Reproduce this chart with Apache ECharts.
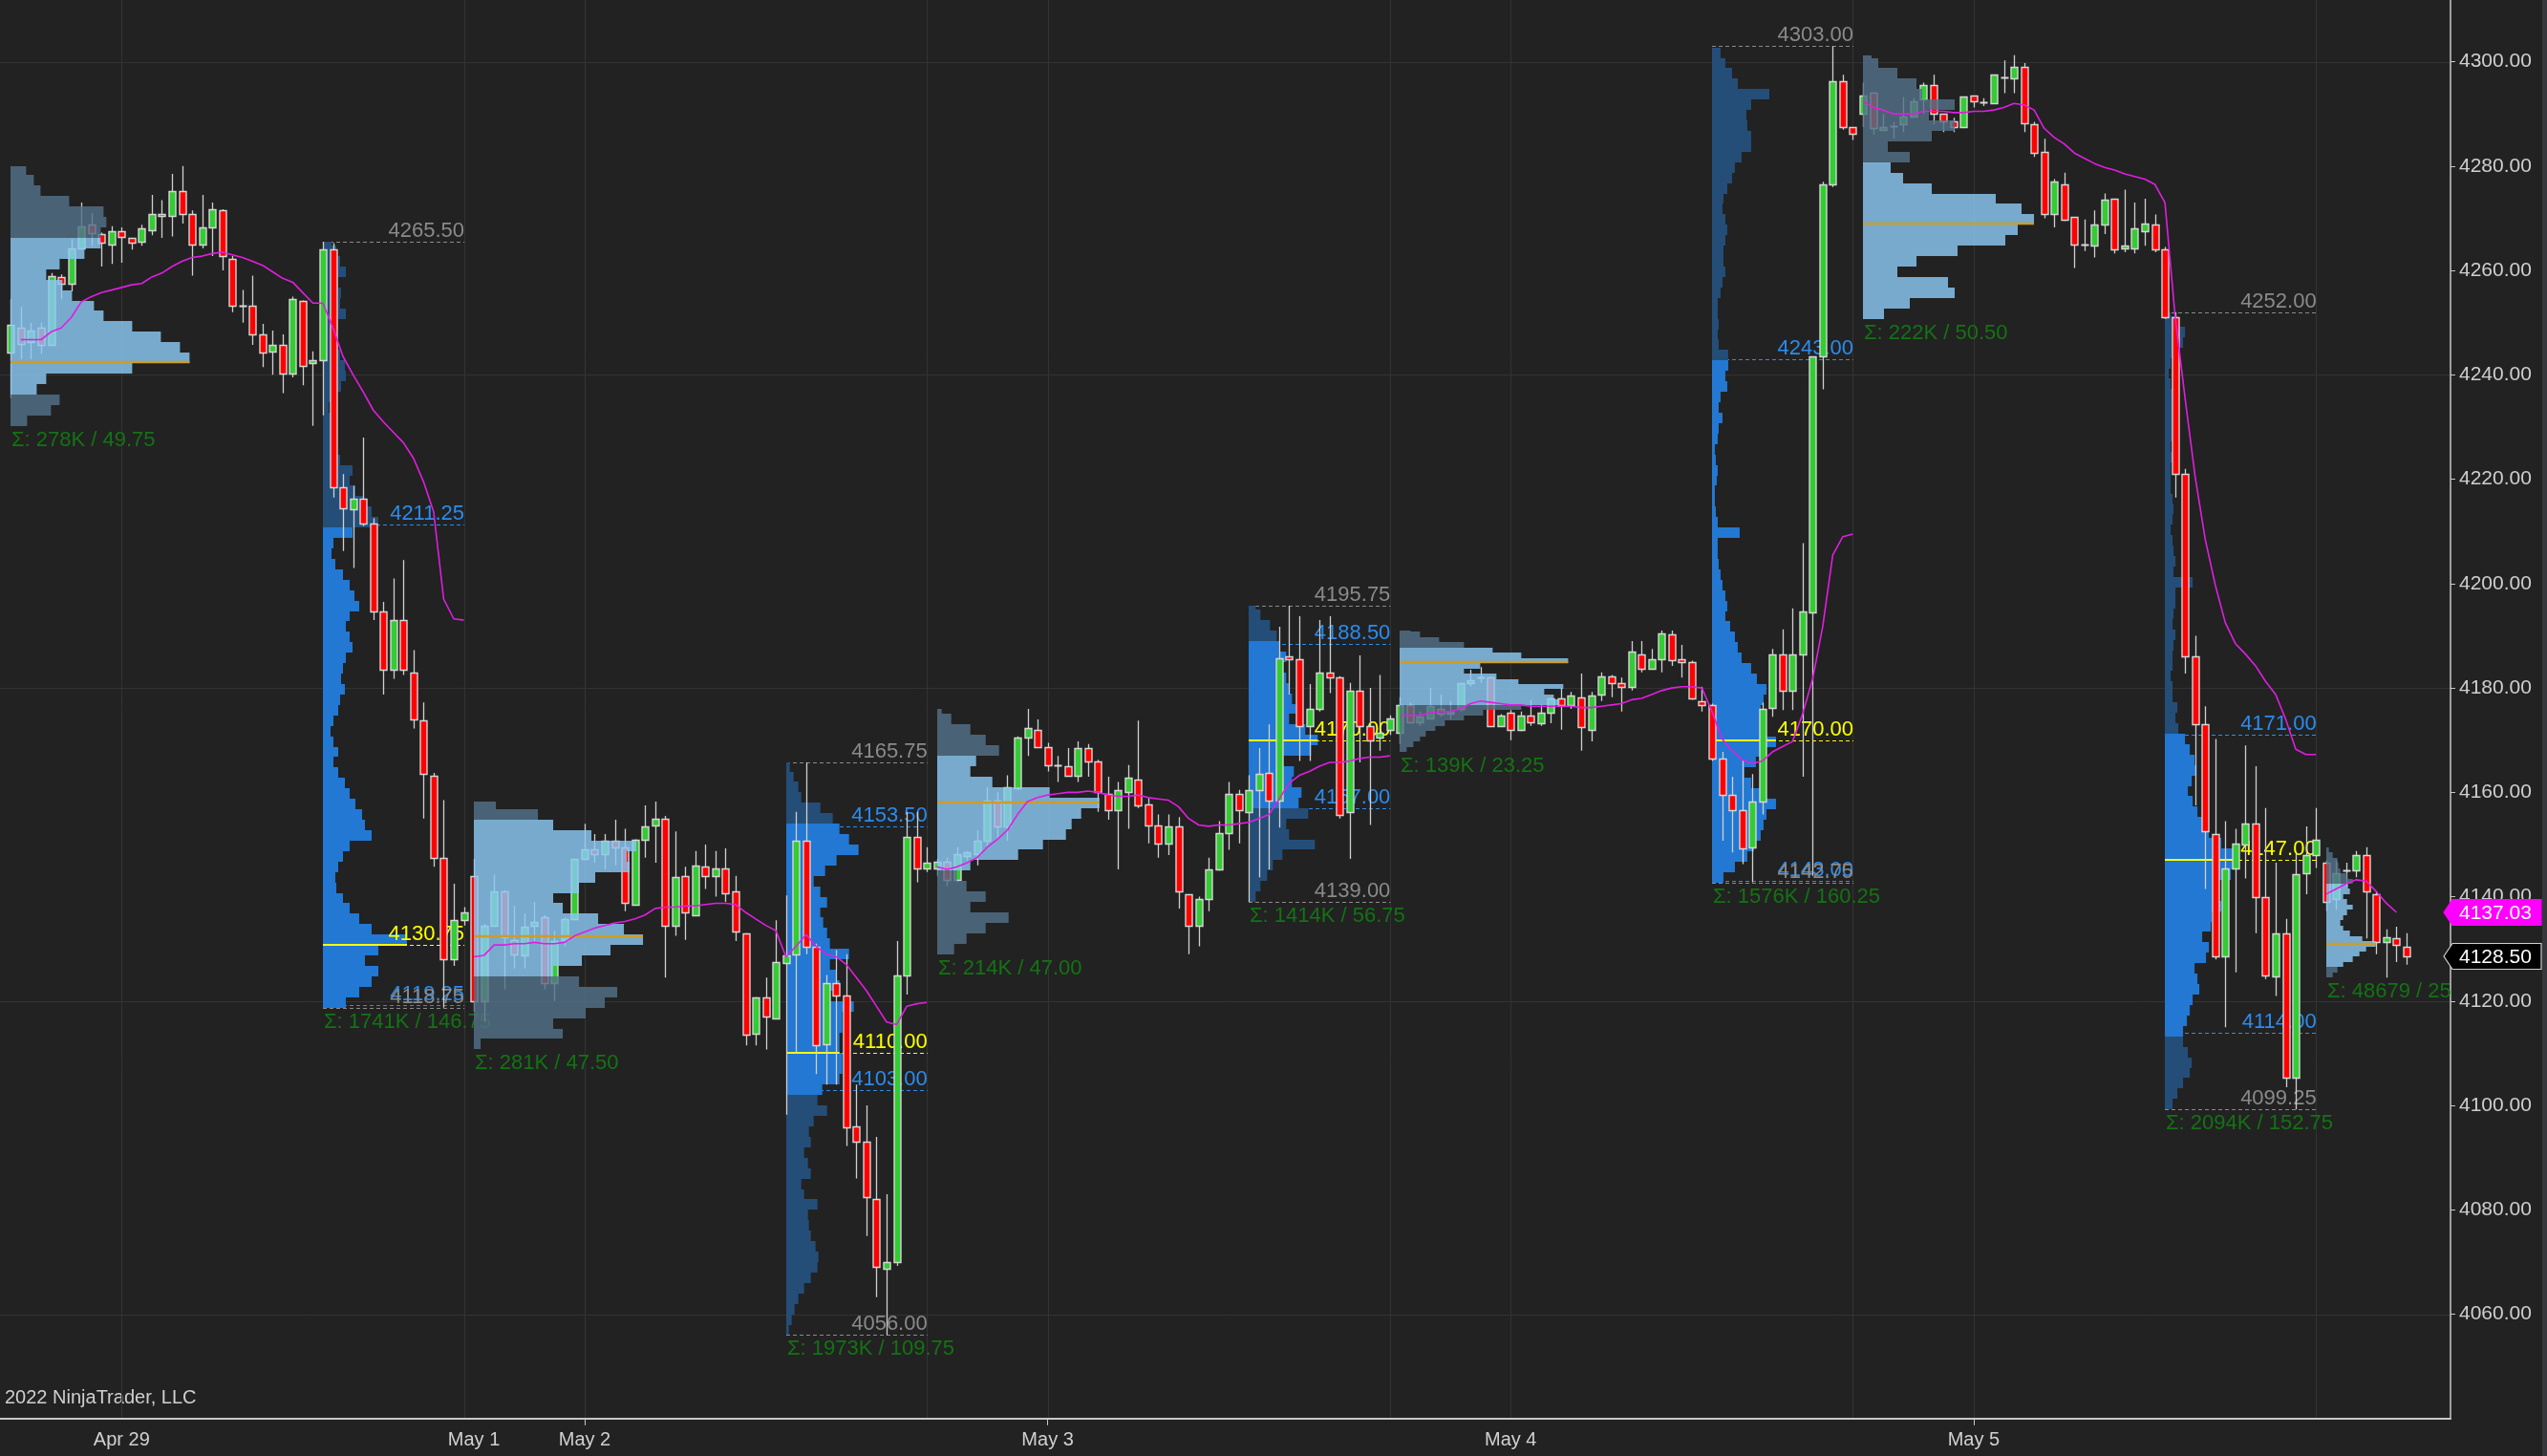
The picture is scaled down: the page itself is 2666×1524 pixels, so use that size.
<!DOCTYPE html>
<html><head><meta charset="utf-8">
<script src="https://cdn.jsdelivr.net/npm/echarts@6/dist/echarts.min.js"></script>
<style>html,body{margin:0;padding:0;background:#222222;}#c{width:2666px;height:1524px;}</style>
</head><body><div id="c"></div>
<script>
// ---------------- DATA ----------------
const opens = [4244.25,4249.0,4246.25,4249.0,4245.75,4258.75,4257.5,4264.25,4268.75,4267.0,4265.0,4267.5,4266.25,4265.5,4267.75,4270.75,4270.5,4275.25,4270.75,4265.0,4268.25,4271.5,4262.25,4253.25,4253.25,4247.75,4244.5,4245.75,4240.25,4254.25,4242.25,4242.75,4264.0,4218.5,4214.25,4216.25,4211.5,4194.75,4183.5,4193.0,4183.0,4173.75,4163.25,4147.5,4128.0,4135.5,
4144.0,4120.0,4134.5,4141.0,4131.75,4128.75,4134.5,4136.0,4123.5,4131.75,4135.75,4147.25,4149.0,4148.25,4150.75,4149.5,4138.5,4151.0,4153.75,4155.0,4134.5,4144.0,4136.5,4145.75,4144.0,4145.5,4141.0,4133.0,4113.75,4120.75,4116.75,4127.25,4129.0,4150.75,4130.5,4111.75,4123.5,4121.0,4096.0,4093.0,4082.0,4068.75,4070.0,4125.0,4151.5,4145.5,
4145.5,4146.75,4143.25,4147.75,4148.25,4150.75,4158.5,4153.5,4160.75,4170.5,4172.0,4168.75,4165.25,4165.0,4163.25,4168.5,4166.0,4159.75,4156.5,4160.0,4162.5,4157.75,4153.75,4150.25,4153.5,4140.5,4134.5,4139.5,4145.25,4152.25,4159.75,4156.25,4160.5,4163.75,4158.5,4186.0,4185.5,4172.75,4176.0,4183.0,4182.0,4156.25,4179.5,4172.75,4170.5,4172.0,
4171.5,4176.75,4173.5,4174.25,4176.0,4175.0,4176.0,4181.0,4182.0,4182.0,4172.75,4175.25,4172.0,4174.75,4173.25,4175.25,4178.0,4176.75,4178.25,4172.0,4178.75,4182.25,4181.0,4180.25,4186.5,4183.75,4185.5,4190.25,4185.5,4185.0,4177.5,4176.75,4166.5,4159.5,4156.5,4149.5,4158.25,4176.25,4186.5,4179.5,4186.5,4194.5,4243.5,4276.5,4296.25,4287.5,
4290.0,4294.0,4287.0,4287.75,4288.0,4289.5,4292.75,4295.5,4290.0,4288.5,4287.5,4293.5,4292.25,4292.0,4297.0,4296.75,4299.0,4288.0,4282.75,4270.75,4276.5,4270.25,4265.0,4264.75,4268.75,4273.75,4264.25,4264.25,4267.5,4268.75,4264.0,4251.0,4221.0,4186.0,4173.0,4152.0,4128.5,4145.5,4150.0,4154.0,4140.0,4124.75,4133.0,4105.25,4144.5,4148.0,
4146.5,4139.5,4145.0,4145.0,4148.0,4140.5,4131.25,4132.0,4130.5];
const closes = [4249.5,4246.0,4248.5,4245.75,4259.0,4257.5,4264.25,4268.5,4267.25,4265.25,4267.5,4266.5,4265.25,4268.0,4270.75,4270.5,4275.25,4270.75,4265.0,4268.25,4271.75,4262.75,4253.25,4253.25,4247.75,4244.25,4245.75,4240.25,4254.5,4241.75,4242.75,4264.0,4218.5,4214.5,4216.25,4211.5,4194.75,4183.5,4193.0,4183.5,4174.0,4163.5,4147.5,4128.0,4135.5,4137.0,
4120.0,4134.5,4141.0,4132.25,4129.0,4134.25,4135.25,4123.5,4131.5,4135.75,4147.25,4149.0,4148.25,4150.75,4149.5,4138.75,4151.0,4153.5,4155.0,4134.5,4143.75,4137.0,4146.0,4144.0,4145.5,4140.75,4133.25,4113.5,4120.75,4117.0,4127.5,4128.75,4150.75,4130.5,4111.5,4123.5,4121.0,4095.75,4093.0,4082.5,4069.0,4070.0,4125.0,4151.5,4145.5,4146.5,
4146.75,4143.25,4148.25,4148.5,4150.75,4158.5,4153.5,4161.0,4170.5,4172.25,4168.75,4165.25,4165.25,4163.25,4168.5,4166.0,4160.0,4156.5,4160.5,4162.75,4157.5,4153.75,4150.25,4153.5,4141.0,4134.5,4139.5,4145.25,4152.25,4159.75,4156.5,4160.5,4163.5,4158.5,4185.75,4185.5,4172.75,4176.0,4183.0,4182.0,4155.75,4179.5,4172.75,4170.0,4171.5,4174.25,
4176.75,4173.5,4174.5,4176.5,4175.0,4175.5,4181.0,4181.5,4182.0,4172.75,4174.75,4172.0,4174.75,4173.5,4175.25,4178.0,4176.75,4178.5,4172.5,4178.5,4182.25,4181.0,4180.25,4187.0,4183.75,4185.5,4190.5,4185.25,4185.0,4178.0,4176.75,4166.5,4159.5,4156.5,4149.25,4158.25,4176.0,4186.5,4179.5,4186.5,4194.75,4243.5,4276.5,4296.25,4287.5,4286.25,
4293.5,4287.25,4287.5,4287.75,4289.5,4292.5,4295.5,4290.0,4288.5,4287.5,4293.25,4292.5,4292.25,4297.5,4297.0,4299.0,4288.25,4282.5,4270.75,4277.0,4269.75,4265.0,4265.0,4268.75,4273.5,4264.0,4264.75,4268.0,4269.0,4264.0,4251.0,4221.0,4186.0,4173.0,4152.5,4128.5,4145.5,4150.25,4154.0,4140.0,4125.0,4133.0,4105.25,4144.25,4148.0,4151.0,
4139.0,4144.5,4145.0,4148.0,4141.0,4131.25,4132.25,4130.75,4128.5];
const highs = [4254.5,4253.0,4250.0,4250.0,4259.5,4259.25,4266.0,4273.0,4271.0,4267.25,4268.5,4268.25,4266.25,4268.75,4274.5,4273.5,4278.5,4280.0,4271.5,4274.5,4273.0,4271.75,4262.75,4256.25,4259.0,4249.75,4248.5,4247.75,4255.0,4254.25,4244.5,4265.5,4265.25,4221.0,4218.75,4228.0,4212.5,4196.5,4201.0,4204.5,4187.25,4177.25,4163.75,4158.5,4142.5,4138.0,
4147.25,4134.75,4144.25,4141.25,4138.25,4136.75,4139.0,4136.5,4133.5,4136.0,4147.25,4154.0,4152.0,4152.0,4154.75,4153.0,4151.0,4157.5,4158.25,4155.5,4152.5,4145.75,4148.75,4150.0,4148.75,4149.25,4144.0,4133.0,4120.75,4124.5,4135.5,4140.25,4156.25,4165.75,4131.0,4125.0,4129.75,4129.0,4104.0,4100.0,4094.0,4083.0,4131.5,4156.25,4156.25,4149.5,
4147.25,4147.5,4149.5,4148.75,4152.75,4161.0,4160.0,4163.25,4170.75,4176.0,4174.0,4169.5,4167.0,4168.5,4169.75,4169.25,4166.25,4163.0,4162.0,4165.25,4173.75,4159.0,4155.75,4155.75,4155.25,4140.5,4140.0,4147.5,4154.5,4162.0,4160.5,4163.25,4168.5,4173.0,4191.75,4195.75,4193.75,4180.75,4193.0,4193.75,4182.25,4181.0,4186.25,4180.0,4182.5,4174.75,
4178.25,4177.25,4175.5,4180.0,4178.75,4177.5,4181.0,4183.5,4184.0,4182.25,4175.0,4175.75,4175.5,4177.75,4176.75,4178.25,4180.0,4179.25,4182.75,4179.25,4183.0,4182.5,4182.0,4189.0,4189.0,4187.5,4191.0,4191.0,4188.25,4185.25,4180.25,4177.0,4167.75,4163.0,4166.25,4163.5,4177.25,4187.5,4191.25,4195.25,4207.75,4243.5,4277.0,4303.0,4297.5,4287.5,
4296.0,4294.0,4290.0,4288.5,4293.25,4293.0,4296.0,4297.5,4290.0,4289.25,4293.25,4293.5,4293.0,4297.5,4300.25,4301.25,4299.75,4288.5,4285.25,4277.5,4278.75,4270.25,4269.75,4271.5,4274.75,4273.75,4275.5,4273.0,4273.75,4270.75,4264.5,4252.0,4222.0,4190.0,4176.5,4170.25,4154.5,4153.0,4169.0,4165.0,4157.0,4146.5,4135.75,4148.25,4153.5,4157.0,
4147.0,4147.0,4146.5,4148.75,4149.5,4141.0,4133.75,4134.25,4133.0];
const lows = [4235.5,4243.0,4243.0,4244.0,4245.5,4254.5,4256.0,4264.0,4264.75,4260.75,4261.25,4261.5,4264.0,4264.75,4266.75,4266.25,4266.5,4269.0,4259.0,4264.25,4262.75,4260.0,4252.0,4250.0,4245.75,4241.5,4240.0,4236.5,4239.5,4238.0,4230.25,4232.25,4216.5,4206.25,4203.0,4211.0,4193.0,4178.75,4181.75,4182.5,4172.25,4155.0,4145.75,4118.75,4126.75,4134.5,
4118.0,4116.0,4134.5,4122.25,4126.25,4126.25,4131.0,4122.25,4120.0,4130.5,4135.5,4147.0,4146.5,4145.25,4146.0,4137.25,4138.5,4147.5,4146.5,4124.5,4132.5,4131.75,4136.5,4141.5,4140.0,4139.0,4131.5,4111.5,4111.5,4110.75,4116.5,4098.25,4110.0,4129.0,4106.0,4104.0,4104.0,4092.25,4086.0,4075.0,4063.25,4056.0,4069.25,4121.25,4142.75,4144.75,
4144.0,4142.0,4142.75,4147.0,4146.0,4149.5,4151.0,4150.75,4160.5,4167.0,4168.5,4164.0,4162.0,4163.0,4162.0,4163.0,4156.25,4154.75,4145.25,4153.0,4157.0,4150.25,4147.5,4148.0,4137.75,4129.0,4130.5,4137.25,4145.0,4149.0,4150.25,4139.0,4143.75,4145.25,4153.25,4178.75,4166.0,4166.0,4175.5,4179.0,4155.0,4147.25,4165.75,4153.75,4168.0,4171.0,
4169.25,4173.25,4172.75,4174.0,4174.5,4174.0,4175.5,4180.25,4181.0,4172.5,4172.5,4170.0,4171.75,4172.75,4172.75,4173.25,4172.0,4176.0,4168.0,4169.75,4177.5,4178.25,4175.5,4179.5,4183.0,4183.5,4183.0,4184.25,4182.0,4177.75,4175.5,4166.0,4150.75,4148.5,4146.25,4142.75,4155.75,4174.5,4175.75,4175.75,4163.0,4144.0,4237.25,4276.0,4287.0,4285.0,
4287.5,4286.0,4287.0,4285.25,4286.5,4289.5,4290.0,4288.0,4286.5,4286.5,4287.5,4291.25,4291.5,4292.0,4294.0,4294.0,4286.5,4281.75,4270.0,4268.25,4269.5,4260.5,4263.75,4262.5,4267.0,4263.25,4263.5,4263.25,4264.75,4263.5,4250.75,4216.5,4182.75,4157.5,4141.5,4128.0,4115.0,4125.5,4143.5,4133.0,4124.25,4121.0,4103.5,4099.25,4140.5,4145.5,
4137.25,4137.5,4142.0,4143.75,4132.0,4129.0,4124.5,4127.5,4127.0];
const vwap = [null,4246.75,4246.75,4246.75,4248.25,4249.0,4251.0,4254.0,4255.0,4255.75,4256.25,4256.75,4257.25,4257.5,4258.75,4259.5,4260.75,4261.75,4262.5,4262.75,4263.25,4263.5,4263.0,4262.5,4261.75,4261.0,4259.75,4258.5,4257.75,4255.75,4253.75,4253.75,4249.0,4243.5,4240.0,4236.75,4233.25,4231.0,4229.0,4227.0,4224.0,4219.5,4213.75,4197.0,4193.25,4193.0,
4128.5,4128.75,4130.75,4130.75,4131.0,4131.0,4131.25,4131.0,4131.0,4131.25,4132.5,4133.25,4134.0,4134.5,4135.0,4135.25,4135.75,4136.5,4137.75,4138.0,4138.0,4138.25,4138.25,4138.5,4138.75,4138.75,4138.5,4137.0,4135.75,4134.5,4133.5,4128.5,4130.5,4132.75,4130.5,4129.0,4128.5,4127.0,4124.5,4122.0,4119.0,4116.0,4115.5,4119.0,4119.5,4119.75,
4145.75,4145.25,4145.75,4146.5,4147.5,4149.5,4151.0,4152.75,4155.75,4158.25,4159.0,4159.5,4159.75,4160.0,4160.0,4160.25,4160.0,4159.5,4159.25,4159.25,4159.5,4159.0,4158.75,4158.5,4157.25,4155.0,4153.75,4153.5,4153.75,4153.75,4154.0,4154.25,4155.0,4155.75,4158.75,4161.75,4163.25,4164.0,4165.0,4165.75,4165.75,4166.0,4166.5,4166.75,4166.75,4167.0,
4174.75,4174.75,4174.75,4175.25,4175.5,4175.5,4176.0,4177.0,4177.5,4177.25,4177.0,4176.75,4176.75,4176.5,4176.5,4176.5,4176.5,4176.5,4176.25,4176.25,4176.5,4176.75,4177.0,4177.75,4178.0,4178.75,4179.5,4180.0,4180.25,4180.25,4180.0,4175.5,4170.25,4168.0,4166.25,4165.5,4166.0,4167.75,4168.75,4169.75,4175.0,4181.75,4191.75,4205.5,4209.0,4209.5,
4292.5,4291.25,4290.75,4290.0,4290.0,4290.0,4290.5,4290.5,4290.5,4290.25,4290.25,4290.5,4290.5,4290.75,4291.25,4292.0,4291.75,4290.75,4287.25,4285.5,4284.25,4282.5,4281.5,4280.5,4279.75,4279.25,4278.5,4278.0,4277.5,4276.5,4273.0,4251.5,4235.5,4220.5,4208.5,4199.75,4192.5,4188.5,4186.5,4184.25,4181.25,4178.75,4174.0,4168.25,4167.25,4167.25,
4140.5,4141.5,4142.5,4143.25,4143.0,4141.0,4138.75,4137.0,null];
const vwapLast = 4137.03;
const vwapSessionStarts = [0,46,92,138,184,230];

// volume profiles (volume units per price bin, bottom -> top)
const prof1Vol = [17,42,51,27,37,127,187,177,157,127,97,87,64,54,37,51,77,94,94,100,97,61,31,24,16];
const prof2Vol = [24,38,51,58,44,58,88,51,38,28,21,14,13,16,21,28,51,44,41,34,28,23,16,11,16,11,8,11,16,18,23,19,21,24,31,28,24,28,38,33,28,21,13,9,11,31,58,51,43,34,28,31,18,14,11,11,9,6,13,19,24,23,18,14,14,16,24,18,19,16,24,18,14,9];
const prof3Vol = [7,93,83,117,137,150,110,83,113,143,177,157,130,93,83,110,127,163,160,170,123,83,67,23];
const prof4Vol = [3,6,9,13,19,26,33,34,31,26,24,23,33,19,16,26,23,19,26,24,29,43,33,38,56,59,59,56,56,59,59,71,46,56,53,46,66,46,43,39,36,43,36,29,41,53,76,66,56,49,36,16,13,8,4];
const prof5Vol = [18,31,51,75,35,51,31,21,35,85,111,135,141,151,170,118,58,35,41,65,51,35,15,5];
const prof6Vol = [7,12,19,25,35,69,42,39,62,52,55,45,47,35,65,72,59,42,49,45,42,39,35,39,32,29,22,12,7];
const prof7Vol = [7,14,21,27,37,47,67,87,127,167,161,151,171,124,101,67,84,176,127,97,67,41,21,11];
const prof8Vol = [12,24,37,44,51,54,57,67,57,41,34,46,54,67,54,52,51,54,57,47,41,31,27,24,19,14,16,14,11,9,7,6,6,29,6,4,3,3,5,6,4,3,6,7,11,7,9,16,14,17,17,7,6,7,6,6,9,11,14,12,12,14,16,14,11,12,16,21,24,31,41,41,37,36,41,60,27,21,14,9];
const prof9Vol = [22,49,96,89,36,56,99,149,162,179,166,139,72,42,29,49,26,72,96,69,96,62,56,36,16,9];
const prof10Vol = [8,13,19,26,28,24,19,19,23,26,29,36,34,31,43,46,39,48,49,59,53,56,69,76,73,59,46,39,34,29,24,28,33,31,26,21,14,11,13,8,8,6,8,8,9,11,8,9,11,11,29,9,11,9,8,6,8,9,8,6,6,6,8,6,8,9,11,11,8,6,4,6,13,19,21,13,6];
const prof11Vol = [7,12,18,28,35,42,52,38,25,18,15,18,22,28,22,18,25,23,28,22,15,13,12,7,3];

const profType  = ['eth','rth','eth','rth','eth','rth','eth','rth','eth','rth','eth'];
const profStart = [0,31,46,77,92,123,138,169,184,214,230];
const profEnd   = [30,45,76,91,122,137,168,183,213,229,238];
const profLow   = [4230.25,4118.75,4110.75,4056.00,4129.00,4139.00,4167.75,4142.75,4250.75,4099.25,4124.50];
const profHigh  = [4280.00,4265.50,4158.25,4165.75,4176.00,4195.75,4191.00,4303.00,4301.25,4252.00,4149.50];
const profVAH   = [4265.75,4211.25,4153.75,4153.50,4166.00,4188.50,4188.00,4243.00,4280.75,4171.00,4142.75];
const profVAL   = [4237.00,4119.25,4125.75,4103.00,4144.25,4157.00,4176.50,4143.00,4250.75,4114.00,4127.00];
const profPOC   = [4242.50,4130.75,4132.50,4110.00,4158.00,4170.00,4185.00,4170.00,4269.00,4147.00,4131.00];
const profStep  = [2,2,2,2,2,2,1,2,2,2,1];
const profVolLabel = ['278K','1741K','281K','1973K','214K','1414K','139K','1576K','222K','2094K','48679'];
const profVols = [prof1Vol,prof2Vol,prof3Vol,prof4Vol,prof5Vol,prof6Vol,prof7Vol,prof8Vol,prof9Vol,prof10Vol,prof11Vol];

const priceTicks = [4060,4080,4100,4120,4140,4160,4180,4200,4220,4240,4260,4280,4300];
const gridPrices = [4060,4120,4180,4240,4300];
const gridBars = [11,45,57,91,103,137,149,183,195,229];
const dateBars = [11,46,57,103,149,195];
const dateLabels = ['Apr 29','May 1','May 2','May 3','May 4','May 5'];
const dateTickBars = [57,103,195];

// ---------------- STYLE / LAYOUT ----------------
const FONT = '"Liberation Sans", Arial, sans-serif';
const X_MIN = -1.082, X_MAX = 242.37;
const VOL_TO_BARS = 1 / 10.536;
const GREEN = '#33cc33', RED = '#ff0000';

const chart = echarts.init(document.getElementById('c'), null, {renderer:'canvas'});

function gridRender(params, api) {
  const cs = params.coordSys;
  const ch = [];
  gridPrices.forEach(p => {
    const y = Math.round(api.coord([0, p])[1]) + 0.5;
    ch.push({type:'line', shape:{x1:cs.x, y1:y, x2:cs.x+cs.width, y2:y}, style:{stroke:'#333333', lineWidth:1}});
  });
  gridBars.forEach(b => {
    const x = Math.round(api.coord([b, 4100])[0]) + 0.5;
    ch.push({type:'line', shape:{x1:x, y1:cs.y, x2:x, y2:cs.y+cs.height}, style:{stroke:'#333333', lineWidth:1}});
  });
  return {type:'group', children:ch};
}

function txt(x, y, text, fill, align, valign, size) {
  return {type:'text', x, y, style:{text, fill, fontSize:size||22, fontFamily:FONT,
    align, verticalAlign:valign, textAlign:align, textVerticalAlign:valign}};
}

function profileRender(params, api) {
  const pi = api.value(1);
  const rth = profType[pi] === 'rth';
  const s = profStart[pi], e = profEnd[pi], lo = profLow[pi], hi = profHigh[pi], st = profStep[pi];
  const vols = profVols[pi];
  const yOf = v => api.coord([s, v])[1];
  const xOf = b => api.coord([b, lo])[0];
  const xs = Math.round(xOf(s)), xe = xOf(e + 0.05);
  const ch = [];
  const levels = [[hi,'#8a8a8a'],[profVAH[pi],'#2b8cee'],[profPOC[pi],'#ffff00'],[profVAL[pi],'#2b8cee'],[lo,'#8a8a8a']];
  if (rth) {
    levels.forEach(([v,c]) => {
      const y = Math.round(yOf(v)) + 0.5;
      ch.push({type:'line', shape:{x1:xs, y1:y, x2:xe, y2:y}, style:{stroke:c, lineWidth:1, lineDash:[4,3]}});
    });
  }
  let maxV = 0;
  vols.forEach((vol, i) => {
    const b0 = lo + i*st, b1 = Math.min(lo + (i+1)*st, hi);
    if (b1 <= b0) return;
    maxV = Math.max(maxV, vol);
    const mid = (b0 + b1) / 2;
    const inVA = mid >= profVAL[pi] && mid <= profVAH[pi];
    const yTop = Math.round(yOf(b1)), yBot = Math.round(yOf(b0));
    const x1 = xOf(s + vol*VOL_TO_BARS);
    const fill = rth ? (inVA ? '#2278d2' : '#244e78') : (inVA ? '#8bc8f3' : '#537088');
    ch.push({type:'rect', shape:{x:xs, y:yTop, width:x1-xs, height:yBot-yTop}, style:{fill, opacity: rth ? 1 : 0.82}});
  });
  const pocIdx = Math.min(vols.length-1, Math.floor((profPOC[pi]-lo)/st));
  const yP = Math.round(yOf(profPOC[pi]));
  if (rth) {
    ch.push({type:'line', shape:{x1:xs, y1:yP, x2:xOf(s + vols[pocIdx]*VOL_TO_BARS), y2:yP}, style:{stroke:'#ffff00', lineWidth:2}});
    levels.forEach(([v,c]) => ch.push(txt(xe, Math.round(yOf(v)), v.toFixed(2), c, 'right', 'bottom', 22)));
  } else {
    ch.push({type:'line', shape:{x1:xs, y1:yP, x2:xOf(s + maxV*VOL_TO_BARS), y2:yP}, style:{stroke:'#cc9d2a', lineWidth:2.5}});
  }
  ch.push(txt(xs + 1, Math.round(yOf(lo)) + 4, 'Σ: ' + profVolLabel[pi] + ' / ' + (hi - lo).toFixed(2), '#137313', 'left', 'top', 22));
  return {type:'group', children:ch};
}

function candleRender(params, api) {
  const i = api.value(0), o = api.value(1), c = api.value(2), l = api.value(3), h = api.value(4);
  const pO = api.coord([i, o]), pC = api.coord([i, c]), pL = api.coord([i, l]), pH = api.coord([i, h]);
  const w = Math.round(api.size([1, 0])[0] * 0.62);
  const x = Math.round(pO[0]);
  const top = Math.round(Math.min(pO[1], pC[1])), bot = Math.round(Math.max(pO[1], pC[1]));
  const ch = [{type:'line', shape:{x1:x+0.5, y1:pH[1], x2:x+0.5, y2:pL[1]}, style:{stroke:'#cfcfcf', lineWidth:1.3}}];
  if (bot - top < 2) {
    ch.push({type:'line', shape:{x1:x-w/2, y1:top+0.5, x2:x+w/2+1, y2:top+0.5}, style:{stroke:'#d8d8d8', lineWidth:2}});
  } else {
    ch.push({type:'rect', shape:{x:x-w/2+0.5, y:top+0.5, width:w, height:bot-top}, style:{fill: c >= o ? GREEN : RED, stroke:'#d6d6d6', lineWidth:1.4}});
  }
  return {type:'group', children:ch};
}

function markerRender(params, api) {
  const cs = params.coordSys;
  const xr = cs.x + cs.width;
  const mk = (v, fill, stroke) => {
    const y = Math.round(api.coord([X_MAX, v])[1]);
    const hh = 13.5;
    return [
      {type:'polygon', shape:{points:[[xr-7,y],[xr+2,y-hh],[xr+95,y-hh],[xr+95,y+hh],[xr+2,y+hh]]}, style:{fill, stroke, lineWidth:1.2}},
      txt(xr+9, y+1, v.toFixed(2), '#ffffff', 'left', 'middle', 21)
    ];
  };
  return {type:'group', children:[...mk(vwapLast, '#ff00ff', '#ff00ff'), ...mk(closes[closes.length-1], '#000000', '#d0d0d0')]};
}

const candleData = opens.map((o, i) => [i, o, closes[i], lows[i], highs[i]]);
const rthData = [], ethData = [];
profType.forEach((t, i) => (t === 'rth' ? rthData : ethData).push([profStart[i], i]));

const vwapSeries = vwapSessionStarts.map((st, k) => {
  const en = k + 1 < vwapSessionStarts.length ? vwapSessionStarts[k+1] : vwap.length;
  const d = [];
  for (let i = st; i < en; i++) if (vwap[i] != null) d.push([i, vwap[i]]);
  return {type:'line', data:d, showSymbol:false, symbol:'none', silent:true, z:5, clip:true,
    lineStyle:{color:'#e01ee0', width:1.6}};
});

const option = {
  backgroundColor:'#222222',
  animation:false,
  grid:{left:0, right:101, top:0, bottom:39.13, containLabel:false},
  xAxis:{
    type:'value', min:X_MIN, max:X_MAX,
    axisLine:{show:true, onZero:false, lineStyle:{color:'#c8c8c8', width:2}},
    axisTick:{show:true, customValues:dateTickBars, length:7, lineStyle:{color:'#c8c8c8'}},
    axisLabel:{show:true, customValues:dateBars, formatter:(v) => { const k = dateBars.indexOf(Math.round(v)); return k >= 0 ? dateLabels[k] : ''; },
      color:'#d0d0d0', fontSize:20, fontFamily:FONT, margin:13},
    splitLine:{show:false}
  },
  yAxis:{
    type:'value', position:'right', min:4040, max:4311.83, interval:20, scale:true,
    axisLine:{show:true, onZero:false, lineStyle:{color:'#c8c8c8', width:1.5}},
    axisTick:{show:true, customValues:priceTicks, length:5, lineStyle:{color:'#c8c8c8'}},
    axisLabel:{show:true, customValues:priceTicks, formatter:(v) => Number(v).toFixed(2), color:'#cfcfcf', fontSize:21, fontFamily:FONT, margin:9},
    splitLine:{show:false}
  },
  graphic:[
    {type:'text', left:5, top:1453, style:{text:'2022 NinjaTrader, LLC', fill:'#cfcfcf', fontSize:20, fontFamily:FONT}},
    {type:'rect', left:2661, top:0, shape:{width:5, height:1524}, style:{fill:'#38383c'}}
  ],
  series:[
    {type:'custom', name:'grid', data:[[0, 4100]], renderItem:gridRender, z:0, silent:true, clip:true},
    {type:'custom', name:'rthProfiles', data:rthData, renderItem:profileRender, z:1, silent:true, clip:true},
    {type:'custom', name:'candles', data:candleData, encode:{x:0, y:[1,2,3,4]}, renderItem:candleRender, z:2, silent:true, clip:true},
    {type:'custom', name:'ethProfiles', data:ethData, renderItem:profileRender, z:3, silent:true, clip:true},
    ...vwapSeries,
    {type:'custom', name:'markers', data:[[X_MAX, vwapLast]], renderItem:markerRender, z:10, silent:true, clip:false}
  ]
};
chart.setOption(option);
</script></body></html>
